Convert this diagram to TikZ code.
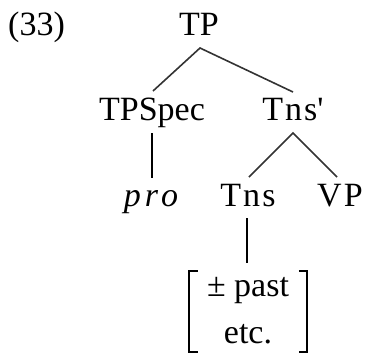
\documentclass[tikz,border=0pt]{standalone}
\usepackage{fontspec}
\setmainfont{Liberation Serif}
\begin{document}
\begin{tikzpicture}[x=1pt,y=-1pt,
  lab/.style={anchor=base,inner sep=0pt,font=\fontsize{34}{40}\selectfont},
  spaced/.style={font=\fontsize{34}{40}\selectfont\addfontfeature{LetterSpace=6}},
  branch/.style={draw=black!80,line width=1.6pt},
  stem/.style={draw=black,line width=2pt},
  brk/.style={draw=black,line width=1.8pt}]
\useasboundingbox (0,0) rectangle (368,354);
% labels
\node[lab,anchor=base west] (ex) at (8,35) {(33)};
\node[lab] (TP) at (199,35) {TP};
\node[lab] (TPSpec) at (152,120) {TPSpec};
\node[lab,spaced] (Tnsbar) at (293,120) {Tns\textquotesingle};
\node[lab,font=\fontsize{34}{40}\selectfont\itshape\addfontfeature{LetterSpace=12}] (pro) at (151,206) {pro};
\node[lab,spaced] (Tns) at (248,206) {Tns};
\node[lab,spaced] (VP) at (340,206) {VP};
\node[lab] (past) at (248,296) {± past};
\node[lab] (etc) at (248,343) {etc.};
% connector end points
\coordinate (TPb) at (200,48);
\coordinate (TPSpect) at (153,91);
\coordinate (Tnsbart) at (293,92);
\coordinate (TPSpecb) at (152,133);
\coordinate (prot) at (152,178);
\coordinate (Tnsbarb) at (293,133);
\coordinate (Tnst) at (249,177);
\coordinate (VPt) at (337,177);
\coordinate (Tnsb) at (247,218);
\coordinate (featt) at (247,263);
% connectors
\draw[branch] (TPSpect) -- (TPb) -- (Tnsbart);
\draw[stem] (TPSpecb) -- (prot);
\draw[branch] (Tnst) -- (Tnsbarb) -- (VPt);
\draw[stem] (Tnsb) -- (featt);
% feature brackets
\coordinate (bl1) at (198,271);
\coordinate (bl2) at (189,271);
\coordinate (bl3) at (189,352);
\coordinate (bl4) at (198,352);
\coordinate (br1) at (299,271);
\coordinate (br2) at (307,271);
\coordinate (br3) at (307,352);
\coordinate (br4) at (299,352);
\draw[brk] (bl1) -- (bl2) -- (bl3) -- (bl4);
\draw[brk] (br1) -- (br2) -- (br3) -- (br4);
\end{tikzpicture}
\end{document}
